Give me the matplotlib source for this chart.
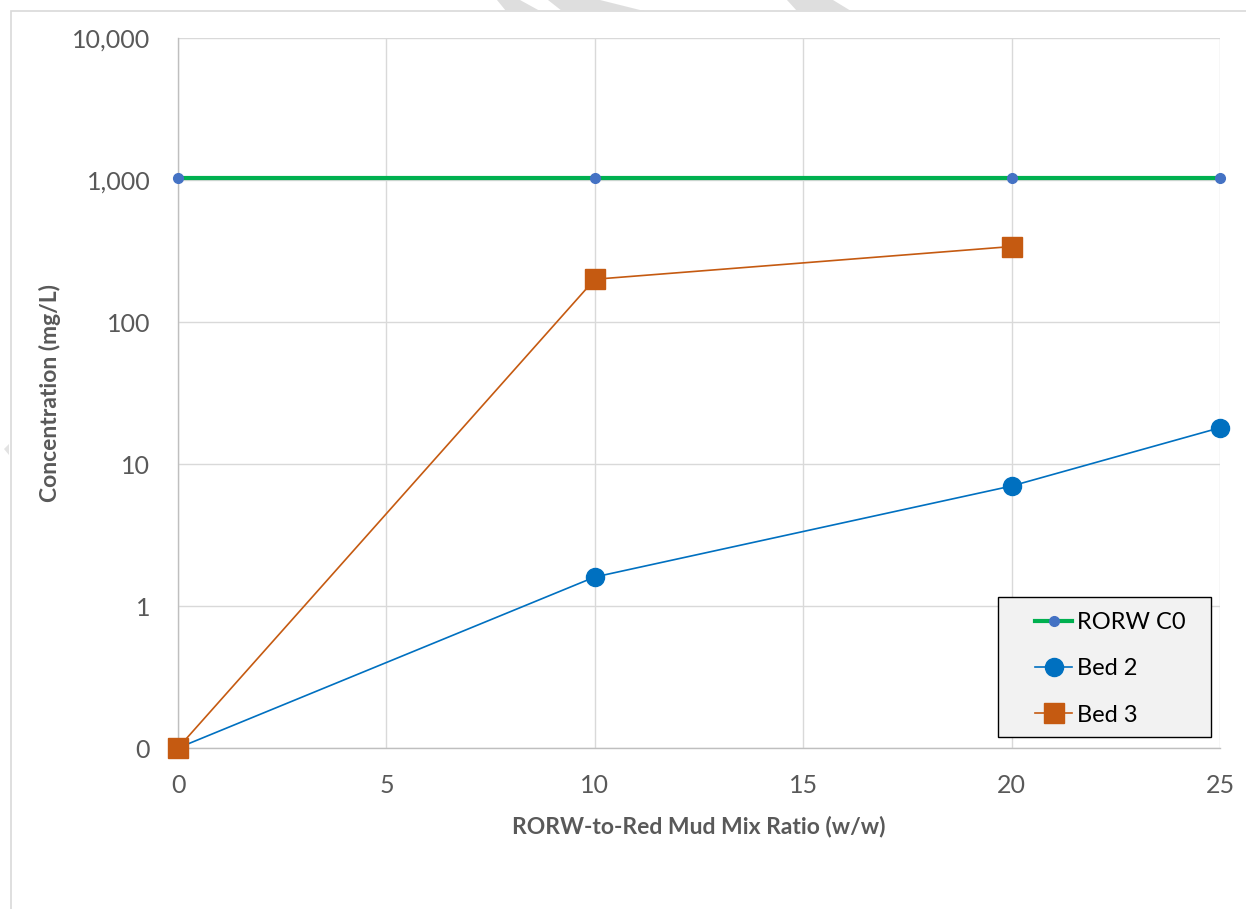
"""Concentration vs. RORW-to-red-mud mix ratio, log scale."""

import matplotlib

matplotlib.use("Agg")

import matplotlib.pyplot as plt
from matplotlib.patches import Polygon, Rectangle
from matplotlib.ticker import FixedLocator, FuncFormatter, NullLocator

plt.rcParams["font.family"] = ["Lato", "DejaVu Sans"]

# Data
mix_ratio = [0, 10, 20, 25]
rorw_c0 = [1030, 1030, 1030, 1030]
bed2_ratio = [0, 10, 20, 25]
bed2_conc = [0.1, 1.6, 7.0, 18]
bed3_ratio = [0, 10, 20]
bed3_conc = [0.1, 200, 340]

x_ticks = [0, 5, 10, 15, 20, 25]
y_ticks = [0.1, 1, 10, 100, 1000, 10000]

TEXT_GREY = "#595959"
GRID_GREY = "#d9d9d9"
W, H = 1246, 909

fig = plt.figure(figsize=(W / 100, H / 100), dpi=100)
ax = fig.add_axes([178 / W, 1 - 748 / H, (1220 - 178) / W, (748 - 38) / H])

ax.plot(mix_ratio, rorw_c0, color="#00b050", lw=3, marker="o", ms=7,
        mfc="#4472c4", mec="#4472c4", label="RORW C0", zorder=3, clip_on=False)
ax.plot(bed2_ratio, bed2_conc, color="#0070c0", lw=1.2, marker="o", ms=13,
        mfc="#0070c0", mec="#0070c0", label="Bed 2", zorder=4, clip_on=False)
ax.plot(bed3_ratio, bed3_conc, color="#c55a11", lw=1.2, marker="s", ms=14,
        mfc="#c55a11", mec="#c55a11", label="Bed 3", zorder=5, clip_on=False)

ax.set_yscale("log")
ax.set_ylim(0.1, 10000)
ax.set_xlim(0, 25)
ax.xaxis.set_major_locator(FixedLocator(x_ticks))
ax.yaxis.set_major_locator(FixedLocator(y_ticks))
ax.yaxis.set_minor_locator(NullLocator())
ax.yaxis.set_major_formatter(FuncFormatter(lambda v, _: f"{v:,.0f}"))

ax.grid(True, color=GRID_GREY, lw=1)
ax.set_axisbelow(True)
for side in ("top", "right"):
    ax.spines[side].set_visible(False)
for side in ("left", "bottom"):
    ax.spines[side].set_color("#bfbfbf")
    ax.spines[side].set_linewidth(1)
ax.tick_params(axis="both", length=0, labelsize=18, labelcolor=TEXT_GREY)
ax.tick_params(axis="y", pad=20)
ax.tick_params(axis="x", pad=19)

ax.set_xlabel("RORW-to-Red Mud Mix Ratio (w/w)", fontsize=16.5,
              fontweight="bold", color=TEXT_GREY, labelpad=13)
ax.set_ylabel("Concentration (mg/L)", fontsize=16.5,
              fontweight="bold", color=TEXT_GREY, labelpad=8)

# legend box drawn by hand so the padding can be set per side
ax.add_patch(Rectangle((998 / W, 1 - 737 / H), 213 / W, 140 / H,
                       transform=fig.transFigure, facecolor="#f2f2f2",
                       edgecolor="black", lw=1, zorder=6, clip_on=False))
leg = ax.legend(loc="upper left", bbox_to_anchor=(1035 / W, 1 - 612 / H),
                bbox_transform=fig.transFigure, fontsize=17, frameon=False,
                handlelength=1.57, handletextpad=0.2, labelspacing=1.07,
                borderpad=0, borderaxespad=0)
leg.set_zorder(7)

# chart frame and faint background watermark
fig.patches.append(Rectangle((11 / W, -0.05), 1.1, 1 - 11 / H + 0.05,
                             transform=fig.transFigure, fill=False,
                             edgecolor="#d9d9d9", lw=1.2))
for pts in ([(497, 0), (520, 0), (540, 11), (506, 11)],
            [(548, 0), (600, 0), (644, 11), (562, 11)],
            [(787, 0), (833, 0), (851, 11), (797, 11)]):
    fig.patches.append(Polygon([(x / W, 1 - y / H) for x, y in pts],
                               transform=fig.transFigure, color="#dedede", lw=0))
fig.patches.append(Polygon([(4 / W, 1 - 449 / H), (9 / W, 1 - 444 / H), (9 / W, 1 - 455 / H)],
                           transform=fig.transFigure, color="#e3e3e3", lw=0))

fig.savefig("out.png", dpi=100)
plt.close(fig)
